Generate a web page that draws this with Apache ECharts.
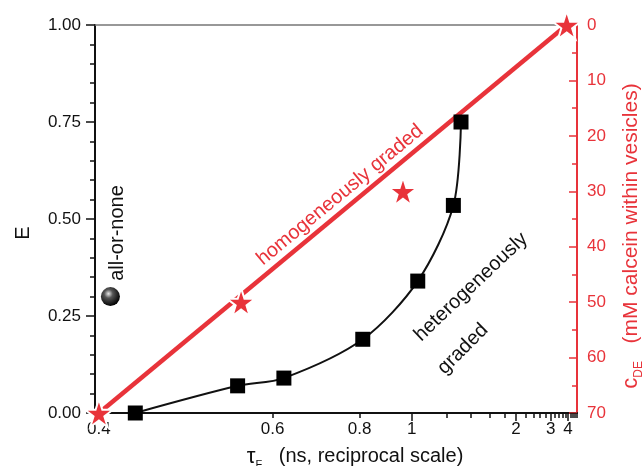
<!DOCTYPE html>
<html lang="en">
<head>
    <meta charset="UTF-8">
    <title>FRET E vs tau</title>
    <script src="https://cdn.jsdelivr.net/npm/echarts@6/dist/echarts.min.js"></script>
</head>
<body style="margin:0;">
<div id="container" style="width:643px;height:466px;"></div>
<script>
    // tau in ns (plotted on a reciprocal scale), E on the left axis
    var hetTau = [0.43, 0.545, 0.62, 0.81, 1.03, 1.25, 1.31];
    var hetE = [0.00, 0.07, 0.09, 0.19, 0.34, 0.535, 0.75];

    // stars: c_DE (mM calcein) on the right axis
    var homTau = [0.4, 0.55, 0.96, 3.9];
    var homC = [70, 50, 30, 0];

    // straight line for the homogeneously graded case
    var lineTau = [0.4, 3.9];
    var lineC = [70, 0];

    // all-or-none point
    var allTau = [0.409];
    var allE = [0.30];

    var labelTicks = [0.4, 0.6, 0.8, 1, 2, 3, 4];
    var longTicks = [1, 2, 3, 4];
    var shortTicks = [0.6, 0.8, 1.2, 1.4, 1.6, 1.8, 2.2, 2.4, 2.6, 2.8,
        3.2, 3.4, 3.6, 3.8, 4.2, 4.4, 4.6, 4.8];
    var tauMin = 0.397, tauMax = 4.83;

    var red = '#e8333a';
    var font = "'Liberation Sans', Arial, sans-serif";
    var star = 'path://M50,0 L61.8,35.1 L98.9,35.1 L68.9,56.8 L80.3,91.9 L50,70.2 L19.7,91.9 L31.1,56.8 L1.1,35.1 L38.2,35.1 Z';

    function inv(t) { return 1 / t; }
    function pairs(xs, ys) {
        return xs.map(function (x, i) { return [inv(x), ys[i]]; });
    }

    var chart = echarts.init(document.getElementById('container'));

    var option = {
        animation: false,
        textStyle: {fontFamily: font},
        grid: {left: 95, right: 66, top: 25, bottom: 53, outerBoundsMode: 'none', containLabel: false},
        xAxis: [
            {
                type: 'value',
                inverse: true,
                min: inv(tauMax),
                max: inv(tauMin),
                position: 'bottom',
                axisLine: {onZero: false, lineStyle: {color: '#111', width: 2}},
                axisTick: {customValues: longTicks.map(inv), length: 8, lineStyle: {color: '#111', width: 1.5}},
                axisLabel: {
                    customValues: labelTicks.map(inv),
                    margin: 8,
                    fontSize: 17,
                    color: '#111',
                    formatter: function (v) { return String(Math.round(10 / v) / 10); }
                },
                splitLine: {show: false},
                name: '{t|τ}{s|F}   (ns, reciprocal scale)',
                nameLocation: 'middle',
                nameGap: 22,
                nameTextStyle: {
                    fontSize: 20, color: '#111', padding: [0, 0, 0, 38], lineHeight: 24,
                    rich: {
                        t: {fontSize: 22, color: '#111', lineHeight: 24},
                        s: {fontSize: 11, color: '#111', verticalAlign: 'bottom', lineHeight: 28}
                    }
                }
            },
            {
                type: 'value',
                inverse: true,
                min: inv(tauMax),
                max: inv(tauMin),
                position: 'bottom',
                axisLine: {show: false},
                axisTick: {customValues: shortTicks.map(inv), length: 5, lineStyle: {color: '#111', width: 1.5}},
                axisLabel: {show: false},
                splitLine: {show: false}
            },
            {
                type: 'value',
                inverse: true,
                min: inv(tauMax),
                max: inv(tauMin),
                position: 'top',
                axisLine: {lineStyle: {color: '#777', width: 1.5}},
                axisTick: {show: false},
                axisLabel: {show: false},
                splitLine: {show: false}
            }
        ],
        yAxis: [
            {
                type: 'value',
                min: 0,
                max: 1,
                interval: 0.25,
                position: 'left',
                axisLine: {show: true, lineStyle: {color: '#111', width: 2}},
                axisTick: {length: 9, lineStyle: {color: '#111', width: 1.5}},
                minorTick: {show: true, splitNumber: 5, length: 5, lineStyle: {color: '#111', width: 1.5}},
                axisLabel: {
                    margin: 14, fontSize: 17, color: '#111',
                    formatter: function (v) { return v.toFixed(2); }
                },
                splitLine: {show: false},
                name: 'E',
                nameLocation: 'middle',
                nameGap: 62,
                nameTextStyle: {fontSize: 20, color: '#111', padding: [0, 28, 0, 0]}
            },
            {
                type: 'value',
                min: 0,
                max: 70,
                interval: 10,
                inverse: true,
                position: 'right',
                axisLine: {show: true, lineStyle: {color: red, width: 2}},
                axisTick: {inside: true, length: 8, lineStyle: {color: red, width: 1.5}},
                minorTick: {show: true, splitNumber: 2, length: 5, lineStyle: {color: red, width: 1.5}},
                axisLabel: {margin: 10, fontSize: 17, color: red},
                splitLine: {show: false},
                name: '{c|c}{s|DE}   (mM calcein within vesicles)',
                nameLocation: 'middle',
                nameRotate: 90,
                nameGap: 36,
                nameTextStyle: {
                    fontSize: 21, color: red, padding: [0, 34, 0, 0], lineHeight: 24,
                    rich: {
                        c: {fontSize: 22, color: red, lineHeight: 24},
                        s: {fontSize: 12, color: red, verticalAlign: 'bottom', lineHeight: 28}
                    }
                }
            }
        ],
        series: [
            {
                name: 'homogeneous line',
                type: 'line',
                xAxisIndex: 0,
                yAxisIndex: 1,
                data: pairs(lineTau, lineC),
                symbol: 'none',
                lineStyle: {color: red, width: 4.5},
                z: 2
            },
            {
                name: 'homogeneous',
                type: 'scatter',
                xAxisIndex: 0,
                yAxisIndex: 1,
                data: pairs(homTau, homC),
                symbol: star,
                symbolSize: 28,
                itemStyle: {color: red, opacity: 1, borderColor: '#fff', borderWidth: 2},
                z: 4
            },
            {
                name: 'heterogeneous fit',
                type: 'line',
                xAxisIndex: 0,
                yAxisIndex: 0,
                data: pairs(hetTau, hetE),
                smooth: 0.3,
                showSymbol: false,
                symbol: 'none',
                lineStyle: {color: '#111', width: 2},
                z: 3
            },
            {
                name: 'heterogeneous',
                type: 'scatter',
                xAxisIndex: 0,
                yAxisIndex: 0,
                data: pairs(hetTau, hetE),
                symbol: 'rect',
                symbolSize: 15,
                itemStyle: {color: '#000', opacity: 1},
                z: 5
            },
            {
                name: 'all-or-none',
                type: 'scatter',
                xAxisIndex: 0,
                yAxisIndex: 0,
                data: pairs(allTau, allE),
                symbol: 'circle',
                symbolSize: 19,
                itemStyle: {
                    opacity: 1,
                    color: {
                        type: 'radial', x: 0.4, y: 0.35, r: 0.65,
                        colorStops: [
                            {offset: 0, color: '#e8e8e8'},
                            {offset: 0.35, color: '#555'},
                            {offset: 1, color: '#000'}
                        ]
                    }
                },
                z: 5
            }
        ],
        graphic: [
            {
                type: 'text', x: 117, y: 233, rotation: Math.PI / 2,
                style: {text: 'all-or-none', fill: '#111', font: '20px ' + font, textAlign: 'center', textVerticalAlign: 'middle'}
            },
            {
                type: 'text', x: 340, y: 195, rotation: 0.69,
                style: {text: 'homogeneously graded', fill: red, font: '20px ' + font, textAlign: 'center', textVerticalAlign: 'middle'}
            },
            {
                type: 'text', x: 471, y: 287, rotation: 0.76,
                style: {text: 'heterogeneously', fill: '#111', font: '20px ' + font, textAlign: 'center', textVerticalAlign: 'middle'}
            },
            {
                type: 'text', x: 463, y: 349, rotation: 0.785,
                style: {text: 'graded', fill: '#111', font: '20px ' + font, textAlign: 'center', textVerticalAlign: 'middle'}
            }
        ]
    };

    chart.setOption(option);
</script>
</body>
</html>
